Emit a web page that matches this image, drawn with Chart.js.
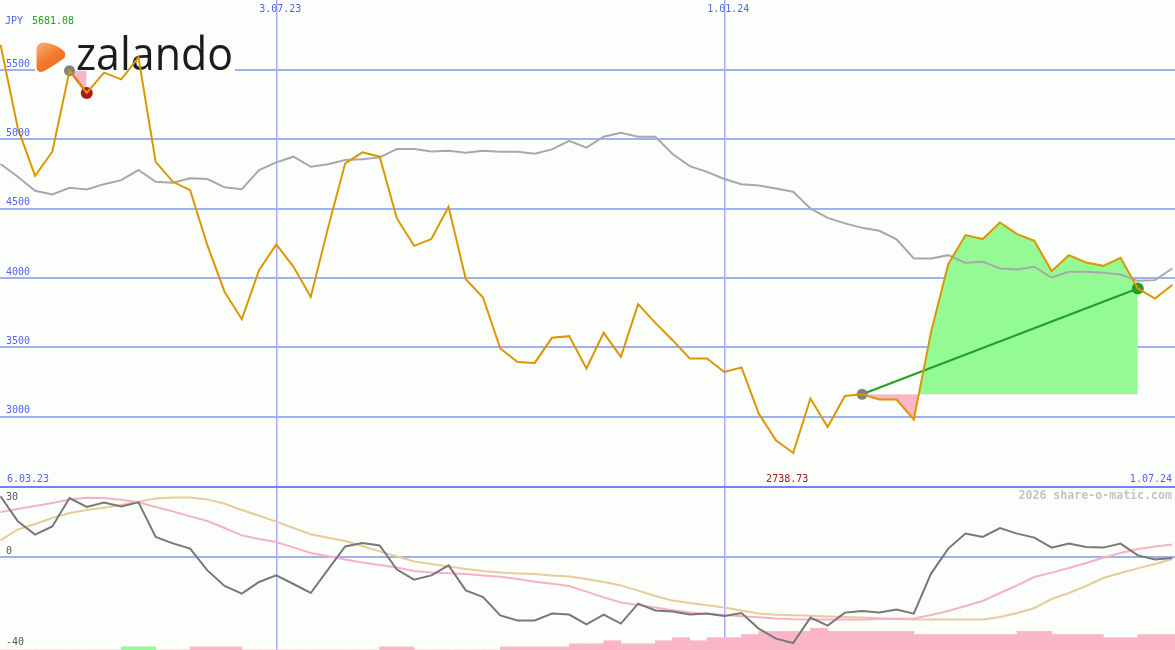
<!DOCTYPE html>
<html>
<head>
<meta charset="utf-8">
<script src="https://cdn.jsdelivr.net/npm/chart.js@4.4.1/dist/chart.umd.min.js"></script>
<style>
  html, body { margin: 0; padding: 0; background: #fcfefb; }
  #wrap { position: relative; width: 1175px; height: 650px; overflow: hidden; }
  canvas { position: absolute; left: 0; display: block; }
  #main { top: 0; }
  #osc { top: 488px; }
</style>
</head>
<body>
<div id="wrap">
  <canvas id="main" width="1175" height="488"></canvas>
  <canvas id="osc" width="1175" height="162"></canvas>
</div>
<script>
// weekly closes, JPY
const price = [
  5681.08, 5080, 4737, 4911, 5495, 5335, 5481, 5433, 5591, 4838,
  4694, 4634, 4237, 3900, 3703, 4057, 4242, 4081, 3864, 4360,
  4827, 4906, 4875, 4430, 4232, 4281, 4514, 3992, 3860, 3492,
  3395, 3388, 3569, 3581, 3348, 3605, 3432, 3812, 3677, 3552,
  3420, 3420, 3323, 3355, 3023, 2830, 2738.73, 3131, 2926, 3150,
  3162, 3124, 3124, 2980, 3610, 4100, 4310, 4281, 4401, 4317,
  4268, 4050, 4165, 4112, 4088, 4146, 3925, 3852, 3950
];
const average = [
  4822, 4730, 4629, 4603, 4651, 4639, 4677, 4706, 4779, 4694,
  4687, 4719, 4714, 4654, 4641, 4779, 4834, 4875, 4802, 4820,
  4851, 4856, 4870, 4930, 4930, 4913, 4918, 4903, 4918, 4911,
  4911, 4896, 4928, 4990, 4940, 5019, 5048, 5019, 5019, 4894,
  4807, 4766, 4714, 4677, 4668, 4646, 4622, 4502, 4434, 4394,
  4362, 4341, 4279, 4141, 4141, 4165, 4110, 4117, 4069, 4062,
  4081, 4004, 4045, 4045, 4038, 4026, 3980, 3985, 4069
];
const momentum = [
  30.3, 17.8, 11.2, 15.3, 29.5, 25, 27.2, 25.3, 27.3, 10,
  6.8, 4.2, -6.7, -14.5, -18.3, -12.5, -9.2, -13.5, -18, -6.3,
  5.3, 7, 5.8, -6.3, -11.3, -9.2, -4.2, -16.7, -20, -29.2,
  -31.7, -31.7, -28.3, -28.8, -33.7, -28.8, -33.3, -23.3, -26.7, -27.2,
  -28.7, -28.3, -29.5, -28, -35.8, -40.8, -43, -30.3, -34.3, -27.8,
  -27, -27.8, -26.3, -28.3, -8.3, 4.2, 11.7, 10, 14.5, 11.7,
  9.7, 4.7, 6.7, 5, 4.7, 6.7, 0.8, -1.2, -0.5
];
const signalFast = [
  22.5, 24, 25.5, 27, 28.8, 29.6, 29.5, 28.6, 27.4, 25,
  22.8, 20.3, 18, 14.5, 10.8, 9, 7.5, 4.8, 2, 0.4,
  -1.3, -2.8, -4, -5.3, -7, -7.7, -8.1, -8.5, -9.2, -9.9,
  -11, -12.4, -13.4, -14.5, -17.3, -20.2, -22.7, -24, -25.3, -26.6,
  -27.8, -28.5, -29, -29.6, -30.1, -30.7, -31.1, -31.3, -31.3, -31.3,
  -31.2, -31, -30.9, -30.8, -29, -27, -24.5, -22, -18, -14.2,
  -10, -7.8, -5.5, -3, -0.4, 2, 4, 5.3, 6.2
];
const signalSlow = [
  8.3, 13.8, 16.5, 19.5, 22, 23.5, 24.6, 26, 27.6, 29.2,
  29.8, 29.7, 28.8, 26.6, 23.5, 20.6, 17.7, 14.5, 11.4, 9.6,
  8, 5.5, 2.8, 0.3, -2.2, -3.5, -4.8, -6, -7, -7.8,
  -8.2, -8.5, -9.2, -9.8, -11, -12.5, -14.2, -16.8, -19.5, -21.8,
  -23, -24.1, -25.3, -26.8, -28.2, -28.9, -29.1, -29.4, -29.7, -30,
  -30.3, -30.6, -31, -31.3, -31.3, -31.3, -31.3, -31.3, -30, -28,
  -25.5, -21, -18, -14.5, -10.5, -8, -5.7, -3.5, -1
];
// weekly signal bars, + buy / - sell
const barLevels = [
  0, 0, 0, 0, 0, 0, 0, 1, 1, 0,
  0, -1, -1, -1, 0, 0, 0, 0, 0, 0,
  0, 0, -1, -1, 0, 0, 0, 0, 0, -1,
  -1, -1, -1, -2, -2, -3, -2, -2, -3, -4,
  -3, -4, -4, -5, -6, -6, -6, -7, -6, -6,
  -6, -6, -6, -5, -5, -5, -5, -5, -5, -6,
  -6, -5, -5, -5, -4, -4, -5, -5, -5
];
const trades = [
  { from: 4, to: 5 },
  { from: 50, to: 66 }
];
const priceTicks = [3000, 3500, 4000, 4500, 5000, 5500];
const oscTicks = [30, 0, -40];
const dateTicks = [16, 42];
const dateLabels = ['3.07.23', '1.01.24'];
const firstDate = '6.03.23';
const lastDate = '1.07.24';
const currency = 'JPY';

const X_MIN = -0.035, X_MAX = 68.16;
const GRID = '#a0b0f0';
const MONO = '"DejaVu Sans Mono", monospace';
const GREEN_FILL = 'rgb(148,250,148)';
const PINK_FILL = 'rgb(250,182,200)';

const pts = (arr, from = 0) => arr.map((v, k) => ({ x: from + k, y: v }));

const hi = Math.max(...price);
const lo = Math.min(...price);
const loIndex = price.indexOf(lo);

const background = {
    id: 'background',
    beforeDraw(chart) {
        const ctx = chart.ctx;
        ctx.save();
        ctx.fillStyle = '#fcfefb';
        ctx.fillRect(0, 0, chart.width, chart.height);
        ctx.restore();
    }
};

const logo = {
    id: 'logo',
    beforeDatasetsDraw(chart) {
        const ctx = chart.ctx;
        ctx.save();
        ctx.fillStyle = '#fcfefb';
        ctx.fillRect(35, 30, 200, 44);

        const grad = ctx.createLinearGradient(38, 42, 60, 72);
        grad.addColorStop(0, '#f9b27a');
        grad.addColorStop(0.5, '#f47a2c');
        grad.addColorStop(1, '#ee6a1c');
        ctx.fillStyle = grad;
        ctx.beginPath();
        ctx.moveTo(44, 42.5);
        ctx.quadraticCurveTo(53, 43, 62, 49.5);
        ctx.quadraticCurveTo(68.5, 54.5, 63, 59);
        ctx.quadraticCurveTo(52, 67, 43, 71.5);
        ctx.quadraticCurveTo(36.5, 73.5, 36.5, 66);
        ctx.lineTo(36.5, 50);
        ctx.quadraticCurveTo(36.5, 42.5, 44, 42.5);
        ctx.fill();

        ctx.font = '46px "Open Sans"';
        ctx.textBaseline = 'alphabetic';
        ctx.textAlign = 'left';
        const w = ctx.measureText('zalando').width;
        ctx.translate(76, 70);
        ctx.scale(157 / w, 1);
        ctx.fillStyle = '#1e1b1e';
        ctx.fillText('zalando', 0, 0);
        ctx.restore();
    }
};

const mainText = {
    id: 'mainText',
    afterDatasetsDraw(chart) {
        const { ctx, scales: { x, y } } = chart;
        ctx.save();
        ctx.font = '10px ' + MONO;
        ctx.textBaseline = 'middle';
        ctx.textAlign = 'left';
        ctx.fillStyle = '#5464f0';
        priceTicks.forEach(v => {
            ctx.fillText(String(v), 6, y.getPixelForValue(v) - 6);
        });
        ctx.fillText(currency, 5, 21);
        ctx.fillStyle = '#1e9e1e';
        ctx.fillText(hi.toFixed(2), 32, 21);

        ctx.fillStyle = '#5464f0';
        ctx.textAlign = 'center';
        dateTicks.forEach((v, k) => {
            ctx.fillText(dateLabels[k], x.getPixelForValue(v) + 4, 9);
        });
        ctx.textAlign = 'left';
        ctx.fillText(firstDate, 7, 479);
        ctx.textAlign = 'right';
        ctx.fillText(lastDate, 1172, 479);

        ctx.fillStyle = '#a01818';
        ctx.textAlign = 'center';
        ctx.fillText(lo.toFixed(2), x.getPixelForValue(loIndex) - 6, 479);

        ctx.strokeStyle = '#7282f0';
        ctx.lineWidth = 2;
        ctx.beginPath();
        ctx.moveTo(0, 487);
        ctx.lineTo(chart.width, 487);
        ctx.stroke();
        ctx.restore();
    }
};

// trade overlays
const levelSets = trades.map(t => ({
    data: [{ x: t.from, y: price[t.from] }, { x: t.to, y: price[t.from] }],
    borderColor: 'transparent', borderWidth: 0, pointRadius: 0, fill: false, order: 10
}));
const areaSets = trades.map((t, k) => ({
    data: pts(price.slice(t.from, t.to + 1), t.from),
    borderColor: 'transparent', borderWidth: 0, pointRadius: 0,
    fill: { target: k, above: GREEN_FILL, below: PINK_FILL },
    order: 9
}));
const won = t => price[t.to] > price[t.from];
const tradeLines = trades.map(t => ({
    data: [{ x: t.from, y: price[t.from] }, { x: t.to, y: price[t.to] }],
    borderColor: won(t) ? '#22a022' : '#b01818', borderWidth: 2,
    pointRadius: 0, fill: false, order: 5
}));

const axisX = {
    type: 'linear', min: X_MIN, max: X_MAX, offset: false,
    afterBuildTicks: s => { s.ticks = dateTicks.map(v => ({ value: v })); },
    afterFit: s => { s.height = 0; },
    ticks: { display: false },
    grid: { color: GRID, lineWidth: 1.5, drawTicks: false, offset: false },
    border: { display: false }
};

new Chart(document.getElementById('main'), {
    type: 'line',
    data: {
        datasets: [
            ...levelSets,
            ...areaSets,
            {
                data: pts(average), borderColor: '#a8a8a8', borderWidth: 2,
                pointRadius: 0, fill: false, order: 6
            },
            ...tradeLines,
            {
                data: trades.map(t => ({ x: t.from, y: price[t.from] })),
                showLine: false, pointRadius: 5.5, pointBorderWidth: 0,
                pointBackgroundColor: '#808080', order: 4
            },
            {
                data: trades.map(t => ({ x: t.to, y: price[t.to] })),
                showLine: false, pointRadius: 6, pointBorderWidth: 0,
                pointBackgroundColor: trades.map(t => won(t) ? '#22a022' : '#b01818'), order: 4
            },
            {
                data: pts(price), borderColor: '#dc9600', borderWidth: 2,
                pointRadius: 0, fill: false, order: 1
            }
        ]
    },
    options: {
        responsive: false,
        animation: false,
        devicePixelRatio: 1,
        layout: { padding: 0, autoPadding: false },
        elements: { line: { tension: 0 } },
        plugins: { legend: { display: false }, tooltip: { enabled: false } },
        scales: {
            x: axisX,
            y: {
                min: 2486, max: 6005,
                afterBuildTicks: s => { s.ticks = priceTicks.map(v => ({ value: v })); },
                afterFit: s => { s.width = 0; },
                ticks: { display: false },
                grid: { color: GRID, lineWidth: 2, drawTicks: false },
                border: { display: false }
            }
        }
    },
    plugins: [background, logo, mainText]
});

const oscText = {
    id: 'oscText',
    afterDatasetsDraw(chart) {
        const { ctx, scales: { y } } = chart;
        ctx.save();
        ctx.font = '10px ' + MONO;
        ctx.textBaseline = 'middle';
        ctx.textAlign = 'left';
        ctx.fillStyle = '#555555';
        oscTicks.forEach((v, k) => {
            let py = y.getPixelForValue(v) - 6;
            if (k === 0) py = 9;
            if (k === oscTicks.length - 1) py = chart.height - 8;
            ctx.fillText(String(v), 6, py);
        });
        ctx.font = 'bold 11.6px ' + MONO;
        ctx.textAlign = 'right';
        ctx.fillStyle = '#c4c4c4';
        ctx.fillText('2026 share-o-matic.com', 1172, 8);
        ctx.restore();
    }
};

new Chart(document.getElementById('osc'), {
    type: 'line',
    data: {
        datasets: [
            {
                type: 'bar', yAxisID: 'yb',
                data: barLevels.map((v, i) => ({ x: i + 0.5, y: Math.abs(v) })),
                backgroundColor: barLevels.map(v => v > 0 ? GREEN_FILL : PINK_FILL),
                borderWidth: 0, barPercentage: 1, categoryPercentage: 1, grouped: false,
                order: 5
            },
            {
                data: pts(signalSlow), borderColor: '#e6cc9c', borderWidth: 2,
                pointRadius: 0, fill: false, order: 4
            },
            {
                data: pts(signalFast), borderColor: '#f8b0c8', borderWidth: 2,
                pointRadius: 0, fill: false, order: 3
            },
            {
                data: pts(momentum), borderColor: '#787878', borderWidth: 2,
                pointRadius: 0, fill: false, order: 1
            }
        ]
    },
    options: {
        responsive: false,
        animation: false,
        devicePixelRatio: 1,
        layout: { padding: 0, autoPadding: false },
        elements: { line: { tension: 0 } },
        plugins: { legend: { display: false }, tooltip: { enabled: false } },
        scales: {
            x: axisX,
            y: {
                min: -46.5, max: 34.5,
                afterBuildTicks: s => { s.ticks = [{ value: 0 }]; },
                afterFit: s => { s.width = 0; },
                ticks: { display: false },
                grid: { color: GRID, lineWidth: 2, drawTicks: false },
                border: { display: false }
            },
            yb: {
                min: 0, max: 52.3, display: false
            }
        }
    },
    plugins: [background, oscText]
});
</script>
</body>
</html>
